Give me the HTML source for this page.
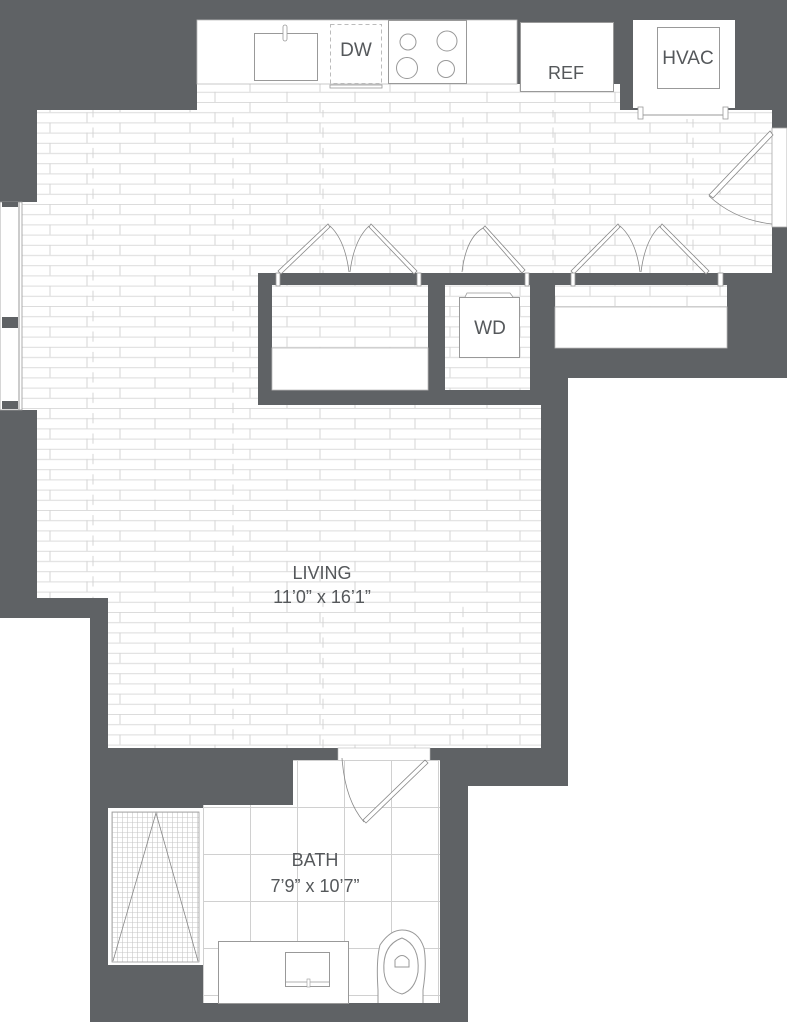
<!DOCTYPE html>
<html><head><meta charset="utf-8"><style>
html,body{margin:0;padding:0;background:#fff;}
svg{display:block;}
text{font-family:"Liberation Sans",sans-serif;fill:#55585b;}
</style></head><body>
<svg width="787" height="1024" viewBox="0 0 787 1024" xmlns="http://www.w3.org/2000/svg">
<defs>
<pattern id="pl" width="200" height="20.4" patternUnits="userSpaceOnUse">
<rect width="200" height="20.4" fill="#fff"/>
<line x1="0" y1="0.5" x2="200" y2="0.5" stroke="#dcdcdc" stroke-width="1"/>
<line x1="0" y1="10.7" x2="200" y2="10.7" stroke="#dcdcdc" stroke-width="1"/>
<line x1="50" y1="0" x2="50" y2="10.2" stroke="#d4d4d4"/>
<line x1="120" y1="0" x2="120" y2="10.2" stroke="#d4d4d4"/>
<line x1="190" y1="0" x2="190" y2="10.2" stroke="#d4d4d4"/>
<line x1="15" y1="10.2" x2="15" y2="20.4" stroke="#d4d4d4"/>
<line x1="87" y1="10.2" x2="87" y2="20.4" stroke="#d4d4d4"/>
<line x1="155" y1="10.2" x2="155" y2="20.4" stroke="#d4d4d4"/>
</pattern>
<pattern id="pl2" x="63" y="5.1" width="230" height="20.4" patternUnits="userSpaceOnUse">
<line x1="30" y1="0" x2="30" y2="10.2" stroke="#d4d4d4"/>
<line x1="170" y1="10.2" x2="170" y2="20.4" stroke="#d4d4d4"/>
</pattern>
<pattern id="tile" width="94" height="94" patternUnits="userSpaceOnUse" x="203" y="760">
<rect width="94" height="94" fill="#fff"/>
<path d="M0 0.5H94M0 47.5H94M0.5 0V94M47.5 0V94" stroke="#d0d0d0" stroke-width="1" fill="none"/>
</pattern>
<pattern id="grid" width="5" height="5" patternUnits="userSpaceOnUse" x="112" y="812">
<rect width="5" height="5" fill="#fff"/>
<path d="M0 0.5H5M0.5 0V5" stroke="#c8c8c8" stroke-width="0.6"/>
</pattern>
</defs>

<rect x="0" y="0" width="787" height="378" fill="#5f6265"/>
<rect x="0" y="378" width="568" height="220" fill="#5f6265"/>
<rect x="0" y="598" width="108" height="20" fill="#5f6265"/>
<rect x="90" y="598" width="478" height="188" fill="#5f6265"/>
<rect x="90" y="786" width="378" height="236" fill="#5f6265"/>

<g fill="url(#pl)">
<rect x="197" y="84" width="423" height="30"/>
<rect x="37" y="110" width="735" height="163"/>
<rect x="22" y="202" width="20" height="208"/>
<rect x="37" y="273" width="221" height="325"/>
<rect x="258" y="405" width="283" height="193"/>
<rect x="108" y="598" width="433" height="150"/>
<rect x="272" y="285" width="156" height="63"/>
<rect x="445" y="285" width="85" height="105"/>
<rect x="555" y="285" width="172" height="22"/>
</g>
<rect x="37" y="110" width="735" height="163" fill="url(#pl2)"/>
<rect x="37" y="273" width="221" height="325" fill="url(#pl2)"/>
<rect x="108" y="598" width="433" height="150" fill="url(#pl2)"/>

<rect x="272" y="348" width="156" height="42" fill="#fff" stroke="#bbb" stroke-width="0.8"/>
<rect x="555" y="307" width="172" height="41" fill="#fff" stroke="#bbb" stroke-width="0.8"/>

<rect x="197" y="20" width="320" height="64" fill="#fff" stroke="#bbb" stroke-width="0.8"/>
<rect x="254.5" y="33.5" width="63" height="47" fill="none" stroke="#999"/>
<rect x="283" y="25" width="4" height="16" rx="2" fill="#fff" stroke="#999" stroke-width="0.8"/>
<rect x="330.5" y="24.5" width="51" height="59" fill="none" stroke="#bbb" stroke-dasharray="4 3"/>
<rect x="330" y="85" width="52" height="3" fill="#fff" stroke="#999" stroke-width="0.8"/>
<text x="356" y="56" font-size="19" text-anchor="middle">DW</text>
<rect x="388.5" y="20.5" width="78" height="63" fill="#fff" stroke="#999"/>
<g fill="none" stroke="#999"><circle cx="408" cy="42" r="8"/><circle cx="447" cy="41" r="10"/><circle cx="407" cy="68" r="10.5"/><circle cx="446" cy="69" r="8.5"/></g>
<rect x="520.5" y="22.5" width="93" height="69" fill="#fff" stroke="#999"/>
<text x="566" y="79" font-size="18" text-anchor="middle">REF</text>

<rect x="633" y="20" width="102" height="88" fill="#fff"/>
<rect x="657.5" y="27.5" width="62" height="61" fill="none" stroke="#999"/>
<text x="688" y="64" font-size="19" text-anchor="middle">HVAC</text>
<rect x="638" y="107" width="90" height="12" fill="#fff"/>
<rect x="638" y="107" width="5" height="12" fill="#fff" stroke="#999" stroke-width="0.8"/>
<rect x="723" y="107" width="5" height="12" fill="#fff" stroke="#999" stroke-width="0.8"/>
<line x1="643" y1="115" x2="723" y2="115" stroke="#999"/>

<rect x="772" y="128" width="15" height="99" fill="#fff" stroke="#aaa" stroke-width="0.8"/>
<polygon points="770,131 773,135 713,198 709,195" fill="#fff" stroke="#888" stroke-width="0.8"/>
<path d="M709 196 Q735 220 772 224" fill="none" stroke="#888" stroke-width="0.8"/>

<rect x="0" y="202" width="22" height="208" fill="#fff" stroke="#999" stroke-width="0.8"/>
<line x1="19" y1="202" x2="19" y2="410" stroke="#999"/>
<rect x="2" y="317" width="16" height="11" fill="#5f6265"/>
<rect x="2" y="202" width="16" height="5" fill="#5f6265"/>
<rect x="2" y="401" width="16" height="8" fill="#5f6265"/>

<g fill="#fff" stroke="#888" stroke-width="0.8">
<polygon points="278,271 281,274 330,227 328,224"/>
<polygon points="417,271 414,274 369,227 371,224"/>
<polygon points="525,270 522,273 483,228 485,226"/>
<polygon points="571,271 574,274 620,227 618,224"/>
<polygon points="709,271 706,274 660,227 662,224"/>
</g>
<g fill="none" stroke="#888" stroke-width="0.8">
<path d="M330 226 Q345 240 349 272"/><path d="M369 226 Q354 240 350 272"/>
<path d="M483 228 Q466 238 462 272"/>
<path d="M620 226 Q636 240 640 272"/><path d="M660 226 Q645 240 641 272"/>
</g>
<g fill="#fff" stroke="#999" stroke-width="0.8">
<rect x="276" y="273" width="4" height="13"/><rect x="417" y="273" width="4" height="13"/>
<rect x="525" y="273" width="4" height="13"/><rect x="718" y="273" width="5" height="13"/>
<rect x="571" y="273" width="4" height="13"/>
</g>

<rect x="459.5" y="297.5" width="60" height="60" fill="#fff" stroke="#999"/>
<path d="M465 297 L467 293 H510 L513 297" fill="#fff" stroke="#999" stroke-width="0.8"/>
<text x="490" y="334" font-size="19" text-anchor="middle">WD</text>

<text x="322" y="579" font-size="18" text-anchor="middle">LIVING</text>
<text x="322" y="603" font-size="18" text-anchor="middle">11’0” x 16’1”</text>

<rect x="338" y="748" width="92" height="14" fill="#fff" stroke="#bbb" stroke-width="0.6"/>
<rect x="293" y="760" width="147" height="46" fill="url(#tile)"/>
<rect x="203" y="805" width="237" height="198" fill="url(#tile)"/>
<rect x="108" y="808" width="95" height="157" fill="#fff"/>
<rect x="112" y="812" width="87" height="150" fill="url(#grid)" stroke="#999" stroke-width="0.8"/>
<path d="M113 961 L156 813 L198 961" fill="none" stroke="#888" stroke-width="0.8"/>
<polygon points="425,760 428,763 366,823 363,820" fill="#fff" stroke="#888" stroke-width="0.8"/>
<path d="M342 758 Q345 800 364 822" fill="none" stroke="#888" stroke-width="0.8"/>
<text x="315" y="866" font-size="18" text-anchor="middle">BATH</text>
<text x="315" y="892" font-size="18" text-anchor="middle">7’9” x 10’7”</text>
<rect x="218.5" y="941.5" width="130" height="62" fill="#fff" stroke="#999"/>
<rect x="285.5" y="952.5" width="44" height="34" fill="none" stroke="#999"/>
<line x1="286" y1="982" x2="329" y2="982" stroke="#999" stroke-width="0.8"/>
<rect x="307" y="979" width="3" height="8" fill="#fff" stroke="#999" stroke-width="0.6"/>
<path d="M378 1003 V990 Q376 960 380 945 Q390 930 402 930 Q418 930 424 948 Q427 965 423 990 V1003" fill="#fff" stroke="#999"/>
<path d="M384 972 Q382 945 402 938 Q420 945 418 972 Q415 990 402 994 Q386 990 384 972Z" fill="none" stroke="#999"/>
<path d="M395 960 Q402 951 409 960 V967 H395Z" fill="none" stroke="#999"/>
</svg>
</body></html>
